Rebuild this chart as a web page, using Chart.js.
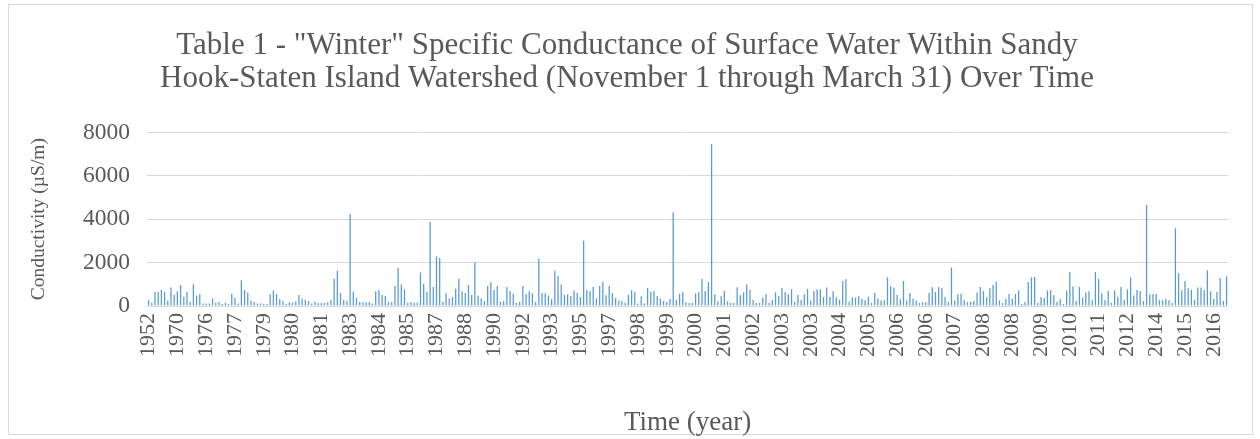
<!DOCTYPE html>
<html>
<head>
<meta charset="utf-8">
<script src="https://cdn.jsdelivr.net/npm/chart.js@4"></script>
<style>
  html, body { margin: 0; padding: 0; background: #ffffff; }
  #wrap { width: 1260px; height: 439px; }
</style>
</head>
<body>
<div id="wrap"><canvas id="c" width="1260" height="439"></canvas></div>
<script>
// Tick labels shown on the category axis (one every 9 samples)
const tickLabels = ['1952','1970','1976','1977','1979','1980','1981','1983','1984','1985',
  '1987','1988','1990','1992','1993','1995','1997','1998','1999','2000',
  '2001','2002','2003','2003','2004','2005','2006','2006','2007','2008',
  '2008','2009','2010','2011','2012','2014','2015','2016'];
const labelEvery = 9;

// Specific conductance (µS/m), one value per winter sample
const conductivity = [
  280,150,650,650,740,650,250,850,510,680,
  970,430,650,200,1000,480,550,110,110,120,
  350,150,180,90,140,90,570,370,110,1190,
  740,620,250,180,120,120,90,90,540,710,
  550,320,230,90,170,150,215,510,340,290,
  230,110,200,140,140,140,170,280,1250,1620,
  600,280,230,4240,660,370,180,170,170,180,
  110,680,740,510,460,180,180,920,1760,990,
  770,150,170,150,150,1540,1030,650,3870,880,
  2290,2210,200,590,350,420,790,1250,680,600,
  970,510,2020,480,350,230,920,1090,740,920,
  180,230,880,690,570,140,180,920,550,680,
  590,180,2190,600,590,480,320,1620,1390,990,
  510,540,460,710,600,420,3010,740,690,880,
  350,920,1120,490,920,600,370,250,230,150,
  510,720,650,120,450,120,830,660,690,460,
  350,230,180,320,4320,290,570,650,170,140,
  140,590,650,1250,690,1110,7460,540,215,450,
  690,215,140,140,860,510,630,990,740,280,
  140,140,390,550,140,280,630,460,830,650,
  540,770,200,510,280,540,790,250,690,770,
  770,420,850,420,680,400,290,1150,1230,200,
  390,390,450,320,260,430,140,600,350,250,
  260,1320,920,850,510,310,1150,250,600,350,
  250,140,170,170,600,860,650,880,830,420,
  180,1770,250,540,570,280,180,180,230,620,
  880,690,400,820,970,1120,250,140,320,550,
  340,550,710,90,180,1110,1320,1340,150,420,
  370,720,720,490,200,320,90,710,1570,910,
  230,880,390,620,680,260,1570,1260,590,280,
  690,150,710,430,880,280,770,1320,480,740,
  690,230,4650,540,550,550,260,260,320,260,
  140,3580,1520,720,1150,820,740,280,850,850,
  740,1650,680,320,650,1290,230,1370
];

// Category (year) of each sample, built from the tick labels
const categories = conductivity.map((v, i) => tickLabels[Math.floor(i / labelEvery)]);

const yTicks = { min: 0, max: 8000, step: 2000 };

const serif = "'Liberation Serif', 'Times New Roman', serif";
const grey = '#595959';

const borderPlugin = {
  id: 'chartBorder',
  beforeDraw(chart) {
    const ctx = chart.ctx;
    ctx.save();
    ctx.fillStyle = '#ffffff';
    ctx.fillRect(0, 0, chart.width, chart.height);
    ctx.strokeStyle = '#d9d9d9';
    ctx.lineWidth = 1;
    ctx.strokeRect(8.5, 4.5, 1244, 430);
    ctx.restore();
  }
};

new Chart(document.getElementById('c'), {
  type: 'bar',
  data: {
    labels: categories,
    datasets: [{
      label: 'Conductivity',
      data: conductivity,
      backgroundColor: '#5B9BD5',
      borderWidth: 0,
      barPercentage: 0.4,
      categoryPercentage: 1.0
    }]
  },
  options: {
    responsive: false,
    animation: false,
    devicePixelRatio: 1,
    layout: { padding: { left: 21, right: 27, top: 0, bottom: 0 } },
    plugins: {
      legend: { display: false },
      tooltip: { enabled: false },
      title: {
        display: true,
        text: ['Table 1 - "Winter" Specific Conductance of Surface Water Within Sandy',
               'Hook-Staten Island Watershed (November 1 through March 31) Over Time'],
        color: grey,
        font: { family: serif, size: 31, weight: 'normal', lineHeight: 1.07 },
        padding: { top: 29, bottom: 37 }
      }
    },
    scales: {
      x: {
        grid: { display: false, drawTicks: false },
        border: { display: false },
        ticks: {
          autoSkip: false,
          minRotation: 90,
          maxRotation: 90,
          padding: 7,
          color: grey,
          font: { family: serif, size: 22 },
          callback: function (value, index) {
            return index % labelEvery === 0 ? this.getLabelForValue(value) : '';
          }
        },
        title: {
          display: true,
          text: 'Time (year)',
          color: grey,
          font: { family: serif, size: 27 },
          padding: { top: 4, bottom: 0 }
        },
        afterFit(scale) { scale.height = 133; }
      },
      y: {
        min: yTicks.min,
        max: yTicks.max,
        grid: { color: '#d9d9d9', lineWidth: 1, drawTicks: false },
        border: { display: false },
        ticks: {
          stepSize: yTicks.step,
          padding: 17,
          color: grey,
          font: { family: serif, size: 23.5 },
          callback: (v) => String(v)
        },
        title: {
          display: true,
          text: 'Conductivity (µS/m)',
          color: grey,
          font: { family: serif, size: 19.5 },
          padding: { top: 6, bottom: 4 }
        },
        afterFit(scale) { scale.width = 126; }
      }
    }
  },
  plugins: [borderPlugin]
});
</script>
</body>
</html>
